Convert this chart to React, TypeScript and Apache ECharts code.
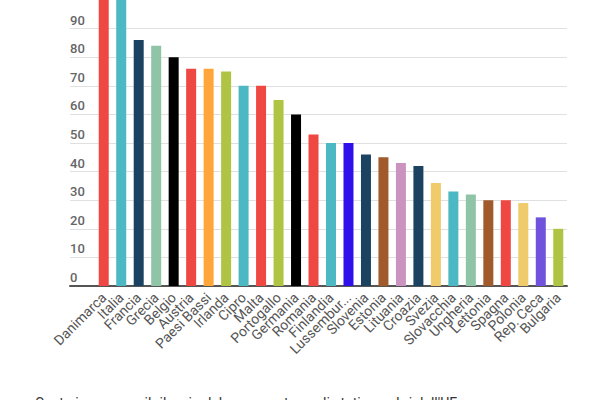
import React, { useEffect, useRef } from "react";
import * as echarts from "echarts";

const COUNTRIES = [
    "Danimarca", "Italia", "Francia", "Grecia", "Belgio", "Austria", "Paesi Bassi",
    "Irlanda", "Cipro", "Malta", "Portogallo", "Germania", "Romania", "Finlandia",
    "Lussemburgo", "Slovenia", "Estonia", "Lituania", "Croazia", "Svezia",
    "Slovacchia", "Ungheria", "Lettonia", "Spagna", "Polonia", "Rep. Ceca", "Bulgaria",
];
const COSTS = [
    110, 116, 86, 84, 80, 76, 76,
    75, 70, 70, 65, 60, 53, 50,
    50, 46, 45, 43, 42, 36,
    33, 32, 30, 30, 29, 24, 20,
];
const BAR_COLORS = [
    "#EF4742", "#4BB8C3", "#1B4361", "#8FC4A7", "#000000", "#EF4742", "#FFA63B",
    "#AFC443", "#4BB8C3", "#EF4742", "#AFC443", "#000000", "#EF4742", "#4BB8C3",
    "#3010EA", "#1B4361", "#A05A2C", "#CB94C0", "#1B4361", "#EFCB6B",
    "#4BB8C3", "#8FC4A7", "#A05A2C", "#EF4742", "#EFCB6B", "#7052DC", "#AFC443",
];
const CAPTION = "Costo in euro per il rilascio del passaporto negli stati membri dell'UE";

export default function App() {
    const ref = useRef<HTMLDivElement | null>(null);

    useEffect(() => {
        if (!ref.current) return;
        const inst = echarts.init(ref.current, undefined, { renderer: "svg" });

        const option: echarts.EChartsOption = {
            animation: false,
            textStyle: { fontFamily: "Roboto" },
            grid: [
                { left: 70, right: 33, top: 0, bottom: 114 },
                { left: 95, right: 33, top: 0, bottom: 114 },
            ],
            xAxis: [
                {
                    // only draws the base line, across the label column too
                    gridIndex: 0,
                    type: "category",
                    data: COUNTRIES,
                    axisLine: { show: true, onZero: false, lineStyle: { color: "#555", width: 2 } },
                    axisTick: { show: false },
                    axisLabel: { show: false },
                    splitLine: { show: false },
                },
                {
                    gridIndex: 1,
                    type: "category",
                    data: COUNTRIES,
                    axisLine: { show: false },
                    axisTick: { show: false },
                    splitLine: { show: false },
                    axisLabel: {
                        interval: 0,
                        rotate: 45,
                        margin: 9,
                        color: "#555",
                        fontSize: 14,
                        fontFamily: "Roboto",
                        width: 84,
                        overflow: "truncate",
                        ellipsis: "...",
                    },
                },
            ],
            yAxis: [
                {
                    gridIndex: 0,
                    type: "value",
                    min: 0,
                    max: 100,
                    interval: 10,
                    axisLine: { show: false },
                    axisTick: { show: false },
                    axisLabel: {
                        inside: true,
                        margin: 0,
                        align: "left",
                        verticalAlign: "bottom",
                        padding: [0, 0, 2, 0],
                        color: "#666",
                        fontSize: 13,
                        fontWeight: 500,
                        fontFamily: "Roboto",
                        showMaxLabel: false,
                    },
                    splitLine: { showMaxLine: false, lineStyle: { color: "#e0e0e0", width: 1 } },
                },
                {
                    gridIndex: 1,
                    type: "value",
                    min: 0,
                    max: 100,
                    axisLine: { show: false },
                    axisTick: { show: false },
                    axisLabel: { show: false },
                    splitLine: { show: false },
                },
            ],
            series: [
                {
                    type: "bar",
                    xAxisIndex: 1,
                    yAxisIndex: 1,
                    barWidth: 10,
                    clip: true,
                    data: COSTS.map((v, i) => ({ value: v, itemStyle: { color: BAR_COLORS[i] } })),
                },
            ],
            graphic: [
                {
                    type: "text",
                    left: 35,
                    top: 396,
                    style: { text: CAPTION, fill: "#333", font: "14px Roboto" },
                },
            ],
        };

        inst.setOption(option);
        return () => {
            inst.dispose();
        };
    }, []);

    return (
        <div
            ref={ref}
            style={{ position: "fixed", left: 0, top: 0, width: 600, height: 400, background: "#fff" }}
        />
    );
}
